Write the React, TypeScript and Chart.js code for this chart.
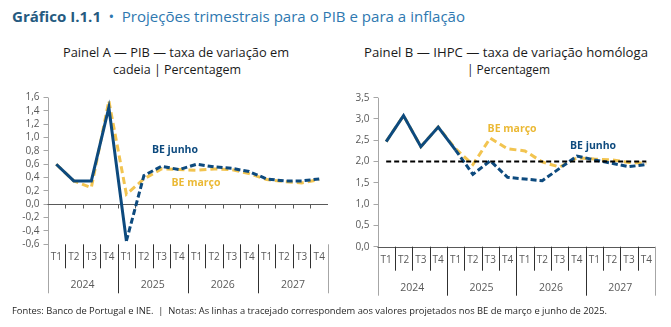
import React, { useEffect, useRef } from 'react';
import { Chart, registerables } from 'chart.js';

Chart.register(...registerables);
Chart.defaults.font.family = "'Open Sans', sans-serif";

const quarters = ['T1', 'T2', 'T3', 'T4', 'T1', 'T2', 'T3', 'T4', 'T1', 'T2', 'T3', 'T4', 'T1', 'T2', 'T3', 'T4'];
const years = ['2024', '2025', '2026', '2027'];

// Painel A — PIB, taxa de variação em cadeia (%)
const pibJunho = [0.6, 0.35, 0.35, 1.45, -0.55, 0.43, 0.57, 0.52, 0.6, 0.56, 0.54, 0.49, 0.38, 0.35, 0.35, 0.38];
const pibMarco = [0.6, 0.35, 0.25, 1.55, 0.15, 0.38, 0.53, 0.52, 0.51, 0.53, 0.52, 0.46, 0.37, 0.34, 0.32, 0.37];

// Painel B — IHPC, taxa de variação homóloga (%)
const ihpcJunho = [2.47, 3.08, 2.35, 2.81, 2.27, 1.7, 2.02, 1.63, 1.59, 1.55, 1.84, 2.13, 2.04, 1.96, 1.88, 1.93];
const ihpcMarco = [2.47, 3.08, 2.35, 2.81, 2.3, 1.93, 2.55, 2.3, 2.25, 1.99, 1.87, 2.09, 2.06, 2.04, 1.98, 1.96];
const ihpcObjetivo = [2, 2, 2, 2, 2, 2, 2, 2, 2, 2, 2, 2, 2, 2, 2, 2];

const pibTicks = [-0.6, -0.4, -0.2, 0, 0.2, 0.4, 0.6, 0.8, 1.0, 1.2, 1.4, 1.6];
const ihpcTicks = [0, 0.5, 1.0, 1.5, 2.0, 2.5, 3.0, 3.5];

const BLUE = '#0d4a7e';
const YELLOW = '#f2c450';
const YELLOW_TXT = '#ebb935';

const fmt = (v: number) => (Math.round(v * 10) / 10).toFixed(1).replace('.', ',');

const catAxisPlugin = {
  id: 'catAxis',
  beforeDatasetsDraw(chart: any) {
    const { ctx, chartArea, scales } = chart;
    const { left, right, top, bottom } = chartArea;
    const x = scales.x;
    const y = scales.y;
    const n = chart.data.labels.length;
    const line = (x1: number, y1: number, x2: number, y2: number) => {
      ctx.beginPath();
      ctx.moveTo(x1, y1);
      ctx.lineTo(x2, y2);
      ctx.stroke();
    };
    const px = (v: number) => Math.round(v) + 0.5;
    ctx.save();
    ctx.lineWidth = 1;
    // axis frame
    ctx.strokeStyle = '#a6a6a6';
    line(px(left), top, px(left), bottom + 49);
    line(px(right), bottom, px(right), bottom + 49);
    // zero line
    const zy = px(y.getPixelForValue(0));
    ctx.strokeStyle = '#595959';
    line(left, zy, right, zy);
    for (let i = 1; i < n; i++) {
      const bx = px(x.getPixelForValue(i - 0.5));
      line(bx, zy, bx, zy + 4);
    }
    // category separators
    ctx.strokeStyle = '#303030';
    for (let i = 1; i < n; i++) {
      const bx = px(x.getPixelForValue(i - 0.5));
      line(bx, bottom, bx, bottom + (i % 4 === 0 ? 49 : 24));
    }
    // labels
    ctx.fillStyle = '#595959';
    ctx.font = "10px 'Open Sans'";
    ctx.textAlign = 'center';
    ctx.textBaseline = 'middle';
    for (let i = 0; i < n; i++) {
      ctx.fillText(chart.data.labels[i], x.getPixelForValue(i), bottom + 13);
    }
    ctx.font = "10.5px 'Open Sans'";
    for (let g = 0; g < years.length; g++) {
      const cx = (x.getPixelForValue(g * 4) + x.getPixelForValue(g * 4 + 3)) / 2;
      ctx.fillText(years[g], cx, bottom + 41);
    }
    ctx.restore();
  },
};

const seriesLabelPlugin = {
  id: 'seriesLabels',
  afterDatasetsDraw(chart: any, _args: any, opts: any) {
    const { ctx, scales } = chart;
    ctx.save();
    ctx.font = "bold 10.5px 'Open Sans'";
    ctx.textAlign = 'center';
    ctx.textBaseline = 'middle';
    (opts.items || []).forEach((it: any) => {
      ctx.fillStyle = it.color;
      ctx.fillText(it.text, scales.x.getPixelForValue(it.xi), scales.y.getPixelForValue(it.yv));
    });
    ctx.restore();
  },
};

function makeConfig(p: any) {
  return {
    type: 'line',
    data: {
      labels: quarters,
      datasets: p.datasets,
    },
    options: {
      animation: false,
      responsive: false,
      maintainAspectRatio: false,
      devicePixelRatio: 1,
      layout: { padding: p.padding },
      elements: { point: { radius: 0 }, line: { tension: 0, borderCapStyle: 'butt' } },
      plugins: {
        legend: { display: false },
        tooltip: { enabled: false },
        seriesLabels: { items: p.labels },
      },
      scales: {
        x: { type: 'category', offset: true, display: false },
        y: {
          min: p.min,
          max: p.max,
          afterFit: (s: any) => {
            s.width = p.yWidth;
          },
          afterBuildTicks: (s: any) => {
            s.ticks = p.ticks.map((v: number) => ({ value: v }));
          },
          border: { display: false },
          grid: { drawOnChartArea: false, drawTicks: true, tickLength: 4, color: '#a6a6a6' },
          ticks: {
            autoSkip: false,
            padding: 4,
            color: '#595959',
            font: { size: 10 },
            callback: (v: number) => fmt(v),
          },
        },
      },
    },
    plugins: [catAxisPlugin, seriesLabelPlugin],
  };
}

const blueDash = (c: any) => (c.p0DataIndex >= 4 ? [6, 3] : []);

function ChartBox(props: { cfg: any; left: number; top: number; width: number; height: number }) {
  const ref = useRef<HTMLCanvasElement | null>(null);
  useEffect(() => {
    if (!ref.current) return;
    const ch = new Chart(ref.current, props.cfg);
    return () => ch.destroy();
  }, []);
  return (
    <canvas
      ref={ref}
      width={props.width}
      height={props.height}
      style={{ position: 'absolute', left: props.left, top: props.top, width: props.width, height: props.height }}
    />
  );
}

let measureCtx: CanvasRenderingContext2D | null = null;
function measure(text: string, font: string) {
  if (!measureCtx) measureCtx = document.createElement('canvas').getContext('2d');
  measureCtx!.font = font;
  return measureCtx!.measureText(text).width;
}

type Part = { t: string; w?: number; c: string };
function FitText(props: { parts: Part[]; size: number; width: number; x: number; cy: number; align?: 'left' | 'center' }) {
  const fam = "'Open Sans'";
  const natural = props.parts.reduce((a, p) => a + measure(p.t, `${p.w || 400} ${props.size}px ${fam}`), 0);
  const sx = props.width / natural;
  const left = props.align === 'center' ? props.x - props.width / 2 : props.x;
  const lh = props.size * 1.4;
  return (
    <div
      style={{
        position: 'absolute',
        left,
        top: props.cy - lh / 2,
        whiteSpace: 'nowrap',
        fontFamily: fam,
        fontSize: props.size,
        lineHeight: `${lh}px`,
        transform: `scaleX(${sx})`,
        transformOrigin: 'left center',
      }}
    >
      {props.parts.map((p, i) => (
        <span key={i} style={{ fontWeight: p.w || 400, color: p.c, whiteSpace: 'pre' }}>
          {p.t}
        </span>
      ))}
    </div>
  );
}

export default function App() {
  const cfgA = makeConfig({
    padding: { left: 0, top: 17.5, right: 7, bottom: 60.7 },
    yWidth: 47.5,
    min: -0.6,
    max: 1.6,
    ticks: pibTicks,
    labels: [
      { text: 'BE junho', xi: 6.77, yv: 0.81, color: BLUE },
      { text: 'BE março', xi: 7.97, yv: 0.32, color: YELLOW_TXT },
    ],
    datasets: [
      { data: pibJunho, borderColor: BLUE, borderWidth: 3, segment: { borderDash: blueDash } },
      { data: pibMarco, borderColor: YELLOW, borderWidth: 3, borderDash: [7, 4] },
    ],
  });
  const cfgB = makeConfig({
    padding: { left: 0, top: 17.7, right: 16, bottom: 58.3 },
    yWidth: 42.5,
    min: 0,
    max: 3.5,
    ticks: ihpcTicks,
    labels: [
      { text: 'BE março', xi: 7.26, yv: 2.76, color: YELLOW_TXT },
      { text: 'BE junho', xi: 11.93, yv: 2.37, color: BLUE },
    ],
    datasets: [
      { data: ihpcObjetivo, borderColor: '#000000', borderWidth: 2, borderDash: [5, 3] },
      { data: ihpcJunho, borderColor: BLUE, borderWidth: 3, segment: { borderDash: blueDash } },
      { data: ihpcMarco, borderColor: YELLOW, borderWidth: 3, borderDash: [7, 4] },
    ],
  });

  return (
    <div style={{ position: 'absolute', left: 0, top: 0, width: 671, height: 327, background: '#fff', overflow: 'hidden' }}>
      <FitText
        parts={[
          { t: 'Gráfico I.1.1', w: 700, c: '#255a80' },
          { t: '\u2002•\u2002', c: '#2e78b0' },
          { t: 'Projeções trimestrais para o PIB e para a inflação', c: '#2e78b0' },
        ]}
        size={14}
        width={453}
        x={12}
        cy={17}
      />
      <FitText parts={[{ t: 'Painel A — PIB — taxa de variação em', c: '#1a1a1a' }]} size={12} width={226} x={176} cy={53} align="center" />
      <FitText parts={[{ t: 'cadeia | Percentagem', c: '#1a1a1a' }]} size={12} width={128} x={177} cy={70} align="center" />
      <FitText parts={[{ t: 'Painel B — IHPC — taxa de variação homóloga', c: '#1a1a1a' }]} size={12} width={284} x={506} cy={53} align="center" />
      <FitText parts={[{ t: '| Percentagem', c: '#1a1a1a' }]} size={12} width={83} x={508} cy={70} align="center" />
      <ChartBox cfg={cfgA} left={0} top={80} width={335} height={225} />
      <ChartBox cfg={cfgB} left={335} top={80} width={336} height={225} />
      <FitText
        parts={[
          {
            t: 'Fontes: Banco de Portugal e INE.  |  Notas: As linhas a tracejado correspondem aos valores projetados nos BE de março e junho de 2025.',
            c: '#262626',
          },
        ]}
        size={9.5}
        width={595}
        x={12}
        cy={311}
      />
    </div>
  );
}
